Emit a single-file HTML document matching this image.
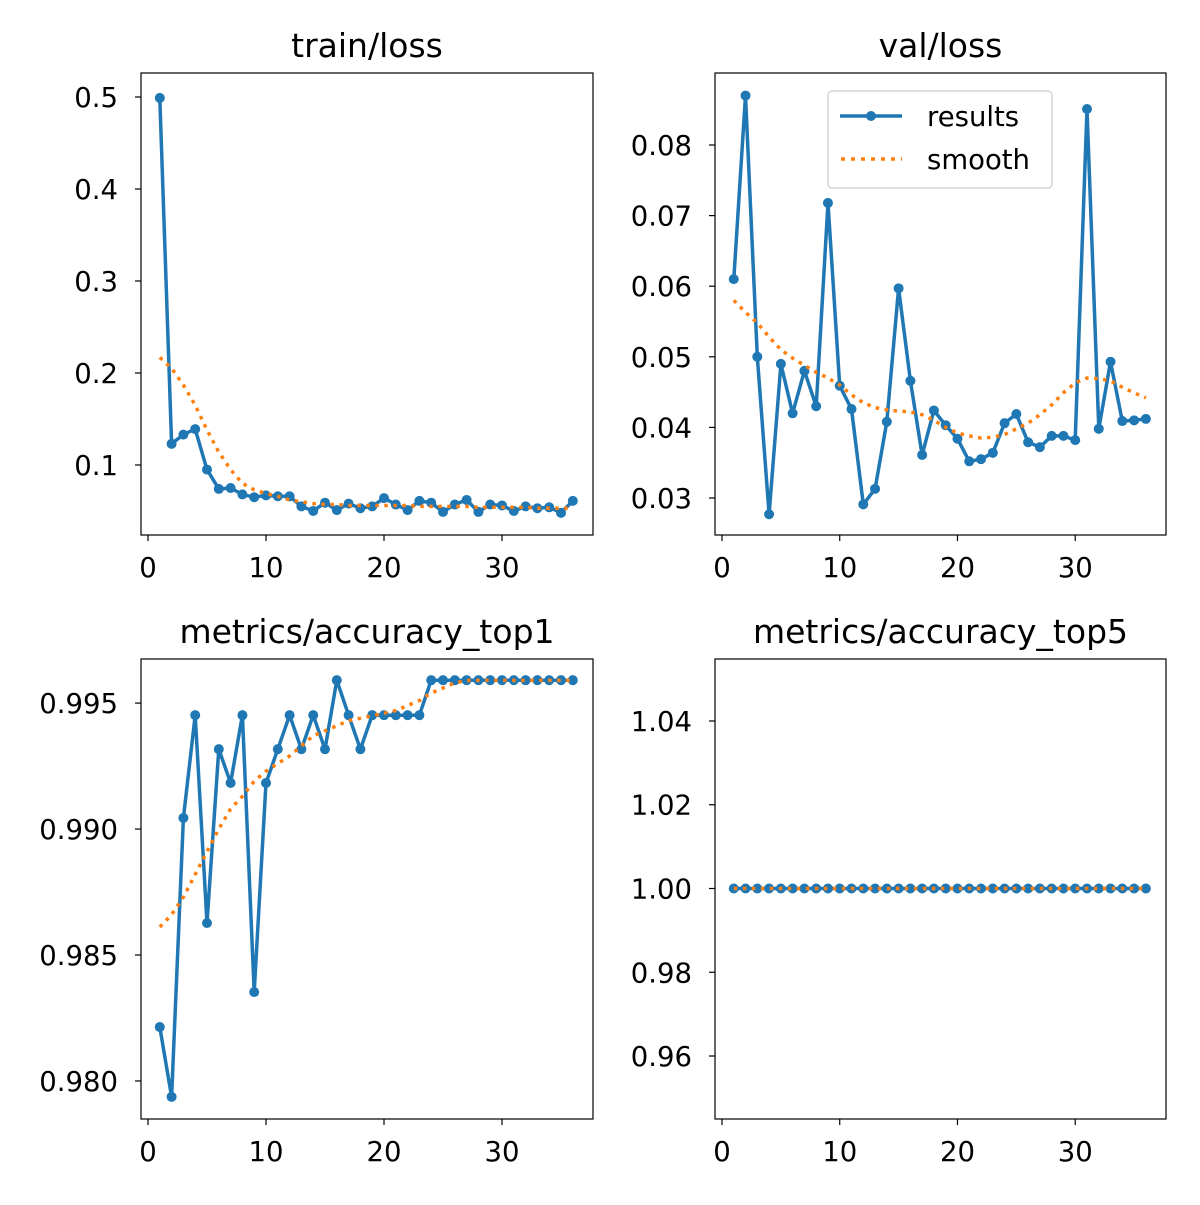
<!DOCTYPE html>
<html><head><meta charset="utf-8">
<style>
html,body{margin:0;padding:0;background:#fff;}
svg text{font-family:"DejaVu Sans","Liberation Sans",sans-serif;fill:#000;}
</style></head>
<body>
<svg id="chart" width="1200" height="1200" viewBox="0 0 1200 1200" xmlns="http://www.w3.org/2000/svg">
<rect width="1200" height="1200" fill="#fff"/>
</svg>
<script>
const epochs = Array.from({length:36},(_,i)=>i+1);
const trainLoss = [.499,.123,.133,.139,.095,.074,.075,.068,.065,.067,.066,.066,.055,.050,.059,.051,.058,.053,.055,.064,.057,.051,.061,.059,.049,.057,.062,.049,.057,.056,.050,.055,.053,.054,.048,.061];
const trainLossSmooth = [.217,.205,.187,.165,.138,.114,.095,.080,.073,.069,.066,.062,.060,.058,.057,.057,.056,.056,.056,.056,.056,.056,.055,.055,.055,.055,.055,.054,.054,.054,.054,.054,.053,.053,.053,.053];
const valLoss = [.061,.087,.050,.0277,.049,.042,.048,.043,.0718,.0459,.0426,.0291,.0313,.0408,.0597,.0466,.0361,.0424,.0403,.0384,.0352,.0355,.0364,.0406,.0419,.0379,.0372,.0388,.0388,.0382,.0851,.0398,.0493,.0409,.0410,.0412];
const valLossSmooth = [.058,.0563,.0548,.0528,.051,.0498,.0488,.0478,.047,.046,.0446,.0435,.0428,.0425,.0423,.0422,.0418,.041,.040,.0392,.0388,.0385,.0386,.039,.0398,.0406,.0418,.0432,.0449,.0463,.047,.0469,.0466,.0457,.0449,.0442];
const top1 = [.98214,.97937,.99044,.99452,.98627,.99317,.99183,.99452,.98353,.99183,.99317,.99452,.99317,.99452,.99317,.99591,.99452,.99317,.99452,.99452,.99452,.99452,.99452,.99591,.99591,.99591,.99591,.99591,.99591,.99591,.99591,.99591,.99591,.99591,.99591,.99591];
const top1Smooth = [.98611,.9866,.9873,.9882,.9891,.9900,.9908,.9913,.9919,.9923,.9926,.9929,.9933,.9937,.9939,.9941,.9943,.9944,.9945,.9946,.9947,.9949,.9951,.9954,.9956,.9958,.9959,.9959,.9959,.9959,.9959,.9959,.9959,.9959,.9959,.9959];
const top5 = Array(36).fill(1.0);
const top5Smooth = Array(36).fill(1.0);
const xTicks = [0,10,20,30];
const ticksTL = [0.1,0.2,0.3,0.4,0.5];
const ticksTLLabels = ["0.1","0.2","0.3","0.4","0.5"];
const ticksTR = [0.03,0.04,0.05,0.06,0.07,0.08];
const ticksTRLabels = ["0.03","0.04","0.05","0.06","0.07","0.08"];
const ticksBL = [0.980,0.985,0.990,0.995];
const ticksBLLabels = ["0.980","0.985","0.990","0.995"];
const ticksBR = [0.96,0.98,1.00,1.02,1.04];
const ticksBRLabels = ["0.96","0.98","1.00","1.02","1.04"];

const NS="http://www.w3.org/2000/svg";
const svg=document.getElementById('chart');
function mk(tag,attrs,parent){const e=document.createElementNS(NS,tag);for(const k in attrs)e.setAttribute(k,attrs[k]);(parent||svg).appendChild(e);return e;}

const panels=[
 {name:'train-loss',title:'train/loss',x0:141,x1:593,y0:73,y1:535,ymin:0.0239,ymax:0.5261,res:trainLoss,sm:trainLossSmooth,ticks:ticksTL,labels:ticksTLLabels},
 {name:'val-loss',title:'val/loss',x0:715,x1:1166,y0:73,y1:535,ymin:0.02476,ymax:0.0902,res:valLoss,sm:valLossSmooth,ticks:ticksTR,labels:ticksTRLabels,legend:true},
 {name:'accuracy-top1',title:'metrics/accuracy_top1',x0:141,x1:593,y0:659,y1:1119,ymin:0.97849,ymax:0.99675,res:top1,sm:top1Smooth,ticks:ticksBL,labels:ticksBLLabels},
 {name:'accuracy-top5',title:'metrics/accuracy_top5',x0:715,x1:1166,y0:659,y1:1119,ymin:0.94496,ymax:1.0548,res:top5,sm:top5Smooth,ticks:ticksBR,labels:ticksBRLabels}
];
const xmin=-0.593,xmax=37.71;
panels.forEach(p=>{
  const g=mk('g',{});
  
  
  const sx=v=>p.x0+(v-xmin)/(xmax-xmin)*(p.x1-p.x0);
  const sy=v=>p.y1-(v-p.ymin)/(p.ymax-p.ymin)*(p.y1-p.y0);
  const t=mk('text',{x:(p.x0+p.x1)/2,y:p.y0-16,'text-anchor':'middle','font-size':'33'},g);
  t.textContent=p.title;
  
  
  xTicks.forEach(v=>{
    const x=sx(v);
    mk('line',{x1:x,x2:x,y1:p.y1,y2:p.y1+6,stroke:'#000','stroke-width':1.2},g);
    const tl=mk('text',{x:x,y:p.y1+42,'text-anchor':'middle','font-size':'27.5'},g);
    tl.textContent=v;
    
    
  });
  p.ticks.forEach((v,i)=>{
    const y=sy(v);
    mk('line',{x1:p.x0-6,x2:p.x0,y1:y,y2:y,stroke:'#000','stroke-width':1.2},g);
    const tl=mk('text',{x:p.x0-23,y:y+10,'text-anchor':'end','font-size':'27.5'},g);
    tl.textContent=p.labels[i];
    
    
  });
  const resPts=epochs.map((e,i)=>sx(e).toFixed(1)+','+sy(p.res[i]).toFixed(1)).join(' ');
  const rl=mk('polyline',{points:resPts,fill:'none',stroke:'#1f77b4','stroke-width':3.5,'stroke-linejoin':'round'},g);
  
  
  epochs.forEach((e,i)=>{
    const c=mk('circle',{cx:sx(e),cy:sy(p.res[i]),r:5,fill:'#1f77b4'},g);
    
    
  });
  const smPts=epochs.map((e,i)=>sx(e).toFixed(1)+','+sy(p.sm[i]).toFixed(1)).join(' ');
  const sl=mk('polyline',{points:smPts,fill:'none',stroke:'#ff7f0e','stroke-width':3.5,'stroke-dasharray':'3.5,5.5'},g);
  
  
  const fr=mk('rect',{x:p.x0,y:p.y0,width:p.x1-p.x0,height:p.y1-p.y0,fill:'none',stroke:'#000','stroke-width':1.2},g);
  
  
  if(p.legend){
    const lg=mk('g',{},g);
    
    
    mk('rect',{x:828,y:91,width:224,height:97,rx:4,fill:'#fff','fill-opacity':0.8,stroke:'#ccc','stroke-width':1.2},lg);
    mk('line',{x1:840,x2:902,y1:116,y2:116,stroke:'#1f77b4','stroke-width':3.5},lg);
    mk('circle',{cx:871,cy:116,r:5,fill:'#1f77b4'},lg);
    const t1=mk('text',{x:927,y:126,'font-size':'27.5'},lg);t1.textContent='results';
    
    
    mk('line',{x1:841,x2:902,y1:159,y2:159,stroke:'#ff7f0e','stroke-width':3.5,'stroke-dasharray':'4,6'},lg);
    const t2=mk('text',{x:927,y:169,'font-size':'27.5'},lg);t2.textContent='smooth';
    
    
  }
});
</script>
</body></html>
